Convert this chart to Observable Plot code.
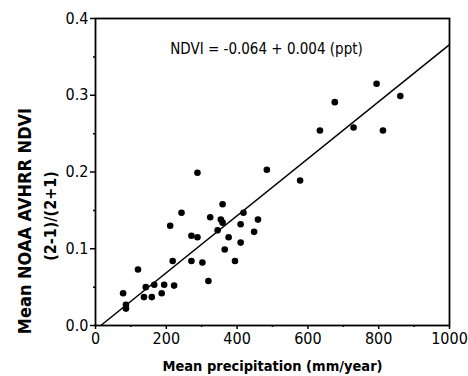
<!DOCTYPE html>
<html><head><meta charset="utf-8">
<script src="https://cdn.jsdelivr.net/npm/d3@7"></script>
<script src="https://cdn.jsdelivr.net/npm/@observablehq/plot@0.6"></script>
<style>
body{margin:0;background:#fff;}
svg, svg text{font-family:"DejaVu Sans Condensed","DejaVu Sans",sans-serif;font-stretch:condensed;}
</style></head><body><div id="chart"></div>
<script>
const precip = [78,86,86,120,137,142,159,166,187,194,211,218,222,243,271,271,288,288,302,319,324,345,354,359,359,365,376,394,410,410,418,448,459,484,578,634,676,729,794,812,861];
const ndvi = [0.042,0.027,0.022,0.073,0.037,0.050,0.037,0.053,0.042,0.053,0.130,0.084,0.052,0.147,0.117,0.084,0.199,0.115,0.082,0.058,0.141,0.124,0.138,0.158,0.134,0.099,0.115,0.084,0.132,0.108,0.147,0.122,0.138,0.203,0.189,0.254,0.291,0.258,0.315,0.254,0.299];
const fitX = [15, 1000];
const fitY = [0, 0.366];
const xTicks = [0,200,400,600,800,1000];
const xMinor = [100,300,500,700,900];
const yTicks = [0.0,0.1,0.2,0.3,0.4];
const yMinor = [0.05,0.15,0.25,0.35];
const equation = "NDVI = -0.064 + 0.004 (ppt)";

const pts = precip.map((p,i)=>({p, v: ndvi[i]}));
const fit = fitX.map((p,i)=>({p, v: fitY[i]}));

const chart = Plot.plot({
  width: 468, height: 376,
  marginLeft: 95, marginRight: 19, marginTop: 18, marginBottom: 51,
  style: {fontSize: "15px", color: "#000", background: "#fff"},
  x: {domain: [0,1000]},
  y: {domain: [0,0.4]},
  marks: [
    Plot.axisX({ticks: xMinor, tickSize: 2, tickFormat: () => "", strokeWidth: 1.5, label: null}),
    Plot.axisY({ticks: yMinor, tickSize: 2, tickFormat: () => "", strokeWidth: 1.5, label: null}),
    Plot.axisX({ticks: xTicks, tickSize: 4, tickPadding: 3, tickFormat: d3.format("d"), strokeWidth: 1.5, fontSize: 16, label: null}),
    Plot.axisY({ticks: yTicks, tickSize: 5, tickPadding: 2, tickFormat: d3.format(".1f"), strokeWidth: 1.5, fontSize: 16, label: null}),
    Plot.frame({stroke: "#000", strokeWidth: 1.8}),
    Plot.line(fit, {x: "p", y: "v", stroke: "#000", strokeWidth: 1.5}),
    Plot.dot(pts, {x: "p", y: "v", r: 3.3, fill: "#000", stroke: "none"}),
    Plot.text([equation], {frameAnchor: "top", dy: 25, dx: -6, fontSize: 15, fill: "#000", text: d => d}),
    Plot.text(["Mean precipitation (mm/year)"], {frameAnchor: "bottom", dy: 45, fontSize: 14.5, fontWeight: "bold", fill: "#000", text: d => d}),
    Plot.text(["Mean NOAA AVHRR NDVI"], {frameAnchor: "left", textAnchor: "middle", dx: -70, dy: 49, rotate: -90, fontSize: 18, fontWeight: "bold", fill: "#000", text: d => d}),
    Plot.text(["(2-1)/(2+1)"], {frameAnchor: "left", textAnchor: "middle", dx: -45, dy: 44, rotate: -90, fontSize: 16, fontWeight: "bold", fill: "#000", text: d => d})
  ]
});
document.getElementById("chart").appendChild(chart);
</script></body></html>
